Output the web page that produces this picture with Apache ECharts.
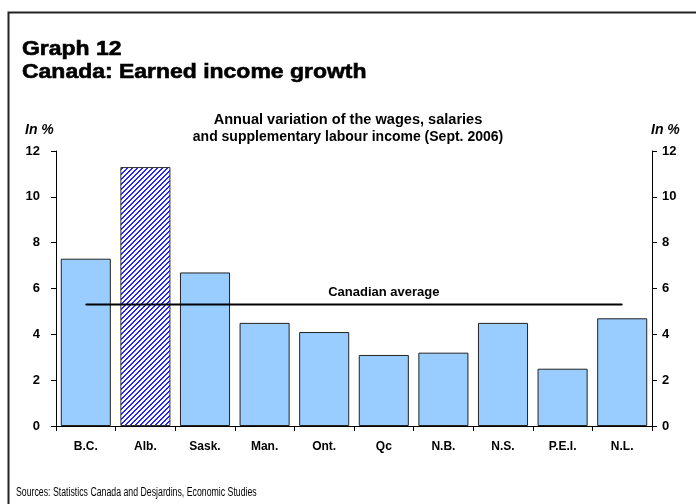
<!DOCTYPE html>
<html>
<head>
<meta charset="utf-8">
<script src="https://cdn.jsdelivr.net/npm/echarts@6/dist/echarts.min.js"></script>
<style>html,body{margin:0;padding:0;background:#fff}#c{width:696px;height:504px}</style>
</head>
<body>
<div id="c"></div>
<script>
const categories = ['B.C.', 'Alb.', 'Sask.', 'Man.', 'Ont.', 'Qc', 'N.B.', 'N.S.', 'P.E.I.', 'N.L.'];
const growth = [7.3, 11.3, 6.7, 4.5, 4.1, 3.1, 3.2, 4.5, 2.5, 4.7];
const canadianAverage = 5.3;
const highlighted = 'Alb.';
const yTicks = [0, 2, 4, 6, 8, 10, 12];
const titleLines = ['Graph 12', 'Canada: Earned income growth'];
const subtitleLines = ['Annual variation of the wages, salaries', 'and supplementary labour income (Sept. 2006)'];
const unitLabel = 'In %';
const avgLabel = 'Canadian average';
const sourceText = 'Sources: Statistics Canada and Desjardins, Economic Studies';

const FONT = '"Liberation Sans", Arial, sans-serif';

// hatch pattern for highlighted bar
const P = 5;
const pc = document.createElement('canvas');
pc.width = P; pc.height = P;
const px = pc.getContext('2d');
px.fillStyle = '#ffffff'; px.fillRect(0, 0, P, P);
px.fillStyle = '#2424ff';
for (let i = 0; i < P; i++) {
  px.fillRect((P - 1 - i) % P, i, 1, 1);
  px.fillRect((P - i) % P, i, 1, 1);
}
const hatch = { image: pc, repeat: 'repeat' };

const barData = categories.map((c, i) => ({
  value: growth[i],
  itemStyle: c === highlighted ? { color: hatch, borderColor: '#333', borderWidth: 1 } : undefined
}));
const labelIdx = 5;
const avgData = categories.map((c, i) => i === labelIdx ? {
  value: canadianAverage,
  label: { show: true, position: 'top', distance: 5, formatter: avgLabel,
    color: '#000', fontWeight: 'bold', fontSize: 13, fontFamily: FONT }
} : canadianAverage);

const chart = echarts.init(document.getElementById('c'), null, { renderer: 'canvas' });
const axisCommon = {
  type: 'value', min: yTicks[0], max: yTicks[yTicks.length - 1], interval: 2,
  splitLine: { show: false },
  axisLine: { show: true, lineStyle: { color: '#000', width: 1 } },
  axisTick: { show: true, length: 5, lineStyle: { color: '#000' } },
  axisLabel: { color: '#000', fontWeight: 'bold', fontSize: 13, fontFamily: FONT }
};
function txt(text, x, y, font, align, sx, stroke) {
  const style = { text: text, font: font, fill: '#000', textAlign: align || 'left', textVerticalAlign: 'middle' };
  if (stroke) { style.stroke = '#000'; style.lineWidth = stroke; }
  return { type: 'text', silent: true, x: x, y: y, scaleX: sx || 1, style: style };
}
chart.setOption({
  animation: false,
  backgroundColor: '#fff',
  grid: { left: 56, right: 44, top: 151, bottom: 78, containLabel: false },
  xAxis: {
    type: 'category', data: categories,
    axisLine: { lineStyle: { color: '#000' } },
    axisTick: { show: true, length: 5, lineStyle: { color: '#000' } },
    axisLabel: { color: '#000', fontWeight: 'bold', fontSize: 12, fontFamily: FONT, margin: 15 }
  },
  yAxis: [
    Object.assign({}, axisCommon, { position: 'left', axisLabel: Object.assign({}, axisCommon.axisLabel, { margin: 16 }) }),
    Object.assign({}, axisCommon, { position: 'right', axisLabel: Object.assign({}, axisCommon.axisLabel, { margin: 10 }) })
  ],
  series: [
    {
      type: 'bar', data: barData, barCategoryGap: '16%',
      itemStyle: { color: '#99ccff', borderColor: '#222', borderWidth: 1 }
    },
    {
      type: 'line', data: avgData,
      symbol: 'circle', symbolSize: 1, showSymbol: true, z: 5,
      itemStyle: { color: '#000' },
      lineStyle: { color: '#000', width: 2 }
    }
  ],
  graphic: [
    { type: 'polyline', silent: true, shape: { points: [[8.5, 504], [8.5, 12.5], [696, 12.5]] },
      style: { stroke: '#222', lineWidth: 2, fill: null } },
    txt(titleLines[0], 22, 49, 'bold 20.5px ' + FONT, 'left', 1.12, 0.6),
    txt(titleLines[1], 22, 72, 'bold 20.5px ' + FONT, 'left', 1.12, 0.6),
    txt(subtitleLines[0], 348, 120.5, 'bold 14px ' + FONT, 'center', 1.04),
    txt(subtitleLines[1], 348, 137.5, 'bold 14px ' + FONT, 'center', 1),
    txt(unitLabel, 25, 130, 'italic bold 14px ' + FONT),
    txt(unitLabel, 651, 130, 'italic bold 14px ' + FONT),
    txt(sourceText, 16, 493, '12.5px ' + FONT, 'left', 0.7)
  ]
});
</script>
</body>
</html>
